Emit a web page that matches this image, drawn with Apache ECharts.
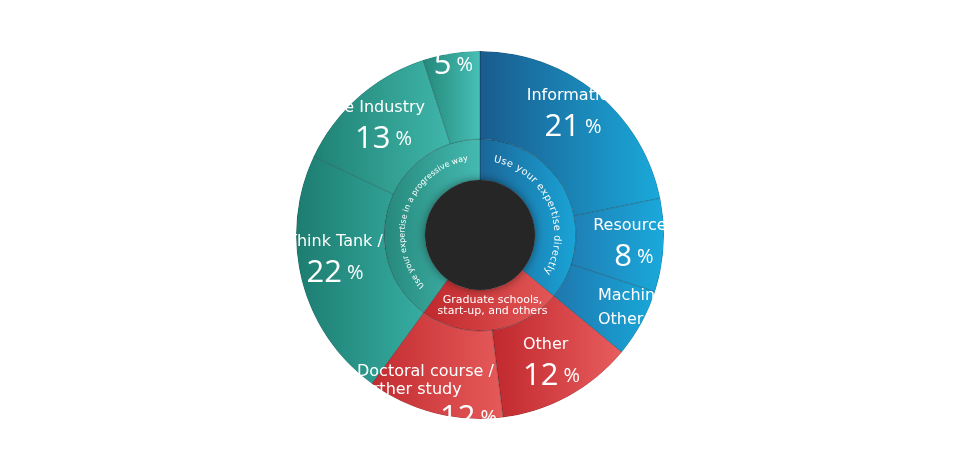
<!DOCTYPE html>
<html><head><meta charset="utf-8">
<script src="https://cdn.jsdelivr.net/npm/echarts@6/dist/echarts.min.js"></script>
<style>html,body{margin:0;padding:0;background:#fff}#c{width:960px;height:458px}</style>
</head><body><div id="c"></div>
<script>
// ---- data ----
const groupNames = ['Use your expertise directly', 'Graduate schools,\nstart-up, and others', 'Use your expertise in a progressive way'];
const fieldGroup = [0, 0, 0, 1, 1, 2, 2, 2];
const fieldNames = ['Information', 'Resources', 'Machinery /\nOther industries', 'Other', 'Doctoral course /\nfurther study', 'Think Tank /', 'Finance Industry', 'Public sector'];
const fieldShares = [21.8, 8.2, 6.0, 12.0, 12.0, 22.0, 13.0, 5.0];
const fieldPct = [21, 8, 6, 12, 12, 22, 13, 5];

// ---- layout / style ----
const CX = 480, CY = 235;
const R_HOLE = 55, R_MID = 96, R_OUT = 184;
const NAME_FONT = '"DejaVu Sans", sans-serif';
const NUM_FONT = '"Open Sans", sans-serif';
const groupColors = [['#1b6698', '#1aa4d7'], ['#c0292d', '#e35757'], ['#26887c', '#45bab1']];
const fieldColors = [['#1a5b8d', '#1aa9da'], ['#1f7fb5', '#1aa9db'], ['#1f77ae', '#18a8d9'],
  ['#c0282d', '#e85d5e'], ['#c22c30', '#e65a5a'],
  ['#1d7c70', '#36ada2'], ['#1f8273', '#40b6ab'], ['#23887a', '#48bfb6']];
// label block placement: [x, centerY], x meaning depends on align
const labelSpecs = [
  { at: [573, 115], align: 'center' },
  { at: [634, 245], align: 'center' },
  { at: [598, 308], align: 'left', w: 200, kind: 'twoLine' },
  { at: [523, 364], align: 'left', w: 80 },
  { at: [357, 400], align: 'left', w: 140, kind: 'doc' },
  { at: [335, 261], align: 'center' },
  { at: [425, 127], align: 'right', w: 150, kind: 'ind' },
  { at: [453.5, 53], align: 'center' }
];
const groupLabelAt = [492.5, 305.5];

function grad(c) {
  return { type: 'linear', x: 0, y: 0, x2: 1, y2: 0, colorStops: [{ offset: 0, color: c[0] }, { offset: 1, color: c[1] }] };
}
const W = '#ffffff';
const rich = {
  n: { fontFamily: NAME_FONT, fontSize: 16, color: W, lineHeight: 24 },
  nl: { fontFamily: NAME_FONT, fontSize: 16, color: W, lineHeight: 24, align: 'left' },
  nr: { fontFamily: NAME_FONT, fontSize: 16, color: W, lineHeight: 24, align: 'right' },
  nd: { fontFamily: NAME_FONT, fontSize: 16, color: W, lineHeight: 18, align: 'left' },
  p: { fontFamily: NUM_FONT, fontSize: 31, color: W, lineHeight: 38 },
  s: { fontFamily: NUM_FONT, fontSize: 20, color: W, lineHeight: 38, padding: [0, 0, 0, 5] },
  pl: { fontFamily: NUM_FONT, fontSize: 31, color: W, lineHeight: 38, align: 'left' },
  sl: { fontFamily: NUM_FONT, fontSize: 20, color: W, lineHeight: 38, padding: [0, 0, 0, 5], align: 'left' },
  pr: { fontFamily: NUM_FONT, fontSize: 31, color: W, lineHeight: 38, align: 'right' },
  sr: { fontFamily: NUM_FONT, fontSize: 20, color: W, lineHeight: 38, padding: [0, 0, 0, 5], align: 'right' },
  sr2: { fontFamily: NUM_FONT, fontSize: 20, color: W, lineHeight: 38, padding: [0, 13, 0, 5], align: 'right' },
  ps: { fontFamily: NUM_FONT, fontSize: 24, color: W, lineHeight: 24, align: 'left' },
  ss: { fontFamily: NUM_FONT, fontSize: 16, color: W, lineHeight: 24, align: 'left' }
};

function labelText(i) {
  const spec = labelSpecs[i];
  const name = fieldNames[i], pct = fieldPct[i];
  const lines = name.split('\n');
  if (spec.kind === 'twoLine') return '{nl|' + lines[0] + '}\n{nl|' + lines[1] + ' }{ps|' + pct + '}{ss|%}';
  if (spec.kind === 'doc') return lines.map(l => '{nd|' + l + '}').join('\n') + '\n{pr|' + pct + '}{sr|%}';
  if (spec.kind === 'ind') return '{nr|' + name + '}\n{pr|' + pct + '}{sr2|%}';
  if (spec.align === 'left') return '{nl|' + name + '}\n{pl|' + pct + '}{sl|%}';
  return '{n|' + name + '}\n{p|' + pct + '}{s|%}';
}

const total = fieldShares.reduce((a, b) => a + b, 0);
const fieldStart = [], fieldEnd = [];
let acc = 0;
fieldShares.forEach((v, i) => { fieldStart[i] = acc / total * 360; acc += v; fieldEnd[i] = acc / total * 360; });
const groupStart = groupNames.map((g, gi) => Math.min(...fieldStart.filter((s, i) => fieldGroup[i] === gi)));
const groupEnd = groupNames.map((g, gi) => Math.max(...fieldEnd.filter((s, i) => fieldGroup[i] === gi)));

// label text -> block centre
const labelPlace = {};
labelPlace[groupNames[1]] = groupLabelAt;

const data = groupNames.map((g, gi) => {
  const node = {
    name: g,
    itemStyle: { color: grad(groupColors[gi]) },
    label: { show: false },
    children: []
  };
  if (gi === 1) {
    node.label = {
      show: true, rotate: 0, color: W, fontFamily: NAME_FONT, fontSize: 11, lineHeight: 11,
      align: 'center', verticalAlign: 'middle',
      formatter: () => g
    };
  }
  fieldNames.forEach((f, i) => {
    if (fieldGroup[i] !== gi) return;
    const spec = labelSpecs[i];
    let cx = spec.at[0];
    if (spec.align === 'left') cx = spec.at[0] + spec.w / 2;
    if (spec.align === 'right') cx = spec.at[0] - spec.w / 2;
    const txt = labelText(i);
    labelPlace[txt] = [cx, spec.at[1]];
    const lab = {
      show: true, rotate: 0, align: 'center', verticalAlign: 'middle',
      formatter: () => txt, rich: rich
    };
    if (spec.w) lab.width = spec.w;
    node.children.push({ name: f, value: fieldShares[i], itemStyle: { color: grad(fieldColors[i]) }, label: lab });
  });
  return node;
});

function arcChars(text, size, radius, a0, a1) {
  const ctx = document.createElement('canvas').getContext('2d');
  const font = size + 'px "DejaVu Sans"';
  ctx.font = font;
  const chars = Array.from(text);
  const w = chars.map(c => ctx.measureText(c).width);
  const sum = w.reduce((a, b) => a + b, 0);
  const arc = (a1 - a0) * Math.PI / 180 * radius;
  const track = (arc - sum) / (chars.length - 1);
  let s = 0;
  const els = [];
  chars.forEach((c, i) => {
    const ang = a0 * Math.PI / 180 + (s + w[i] / 2) / radius;
    els.push({
      type: 'text', silent: true, z: 60,
      x: CX + radius * Math.sin(ang), y: CY - radius * Math.cos(ang), rotation: -ang,
      style: { text: c, fill: W, font: font, align: 'center', verticalAlign: 'middle', textAlign: 'center', textVerticalAlign: 'middle' }
    });
    s += w[i] + track;
  });
  return els;
}

const graphics = [
  { type: 'circle', silent: true, z: 50, shape: { cx: CX, cy: CY, r: R_HOLE },
    style: { fill: '#262626', shadowBlur: 10, shadowColor: 'rgba(0,0,0,0.45)' } },
  ...arcChars(groupNames[0], 9.8, 77, groupStart[0] + 10.5, groupEnd[0] - 9.1),
  ...arcChars(groupNames[2], 8, 77.5, groupStart[2] + 11.5, groupEnd[2] - 9),
  { type: 'ring', silent: true, zlevel: 5, z: 100, shape: { cx: CX, cy: CY, r: 800, r0: R_OUT }, style: { fill: W } }
];

const chart = echarts.init(document.getElementById('c'), null, { renderer: 'canvas' });
chart.setOption({
  backgroundColor: W,
  animation: false,
  series: [{
    type: 'sunburst',
    center: [CX, CY],
    radius: [R_HOLE, R_OUT],
    sort: null,
    nodeClick: false,
    startAngle: 90,
    clockwise: true,
    emphasis: { disabled: true },
    itemStyle: { borderWidth: 0.6, borderColor: 'rgba(0,20,30,0.4)' },
    label: { show: false },
    labelLayout: function (p) {
      const pos = labelPlace[p.text];
      return pos ? { x: pos[0], y: pos[1] } : {};
    },
    levels: [{}, { r0: R_HOLE, r: R_MID }, { r0: R_MID, r: R_OUT }],
    data: data
  }],
  graphic: graphics
});
</script>
</body></html>
